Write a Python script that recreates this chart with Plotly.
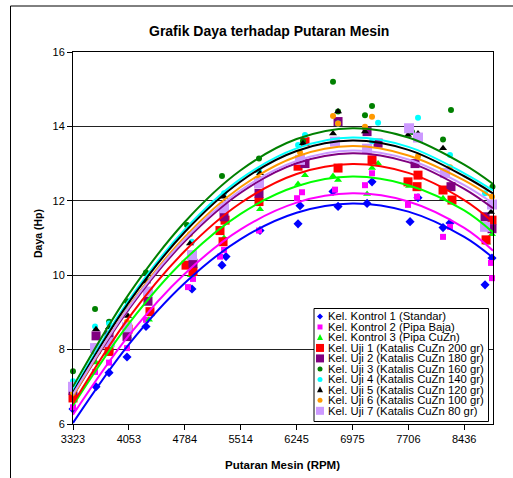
import plotly.graph_objects as go

# ---------------- data ----------------
X_TICKS = [3323, 4053, 4784, 5514, 6245, 6975, 7706, 8436]
Y_TICKS = [6, 8, 10, 12, 14, 16]

NAMES = [
    "Kel. Kontrol 1 (Standar)",
    "Kel. Kontrol 2 (Pipa Baja)",
    "Kel. Kontrol 3 (Pipa CuZn)",
    "Kel. Uji 1 (Katalis CuZn 200 gr)",
    "Kel. Uji 2 (Katalis CuZn 180 gr)",
    "Kel. Uji 3 (Katalis CuZn 160 gr)",
    "Kel. Uji 4 (Katalis CuZn 140 gr)",
    "Kel. Uji 5 (Katalis CuZn 120 gr)",
    "Kel. Uji 6 (Katalis CuZn 100 gr)",
    "Kel. Uji 7 (Katalis CuZn 80 gr)",
]

k1_rpm = [3323, 3624, 3794, 4029, 4277, 4878, 5270, 5323, 5767, 6264, 6290, 6721, 6787, 7166, 7231, 7728, 7832, 8159, 8250, 8708, 8799]
k1_hp = [6.40, 7.00, 7.38, 7.80, 8.62, 9.63, 10.27, 10.50, 11.20, 11.38, 11.87, 12.25, 11.85, 11.93, 12.51, 11.44, 12.08, 11.28, 11.40, 9.74, 10.46]

k2_rpm = [3323, 3611, 3794, 4029, 4277, 4826, 4891, 5244, 5297, 5754, 6251, 6316, 6747, 7139, 7231, 7701, 7819, 8159, 8250, 8786, 8799]
k2_hp = [6.45, 7.40, 7.65, 8.04, 8.80, 9.68, 9.90, 10.50, 10.68, 11.20, 12.07, 12.23, 12.30, 12.42, 12.74, 11.89, 12.11, 11.03, 11.30, 10.33, 9.92]

k3_rpm = [3323, 3624, 3807, 4042, 4316, 4865, 5297, 5767, 6264, 6355, 6721, 6787, 7166, 7231, 7310, 7715, 8159, 8734, 8799]
k3_hp = [6.80, 7.65, 8.00, 8.35, 8.80, 10.00, 11.00, 11.77, 12.45, 12.69, 12.67, 12.56, 12.18, 12.88, 13.00, 12.40, 12.07, 10.87, 11.10]

u1_rpm = [3323, 3624, 3794, 4042, 4329, 4800, 4891, 5244, 5284, 5310, 5754, 6264, 6355, 6787, 7231, 7701, 7819, 7832, 8159, 8276, 8721, 8799]
u1_hp = [6.70, 8.00, 7.95, 8.55, 9.02, 10.27, 10.10, 11.20, 10.90, 11.48, 11.98, 12.93, 13.59, 12.88, 13.10, 12.51, 12.38, 12.69, 12.29, 12.02, 10.95, 11.48]

u2_rpm = [3323, 3624, 3794, 4029, 4303, 4891, 5297, 5754, 6355, 6787, 7166, 7310, 7793, 8263, 8708, 8799]
u2_hp = [6.90, 8.37, 8.39, 8.35, 9.30, 10.32, 11.57, 12.20, 13.00, 14.13, 13.86, 13.55, 13.00, 12.38, 11.57, 11.25]

u3_rpm = [3323, 3611, 3794, 4029, 4277, 4813, 5270, 5754, 6329, 6721, 6787, 7139, 7231, 7754, 8159, 8263, 8805]
u3_hp = [7.42, 9.09, 8.75, 9.30, 10.07, 11.35, 12.67, 13.14, 13.60, 15.20, 14.40, 14.30, 14.55, 13.85, 13.65, 14.44, 12.38]

u4_rpm = [3323, 3611, 3794, 4029, 4290, 4878, 5297, 5754, 6264, 6355, 6787, 7231, 7310, 7832, 8250, 8708]
u4_hp = [7.15, 8.62, 8.70, 9.10, 9.90, 10.90, 12.20, 12.80, 13.50, 13.77, 14.08, 13.60, 14.10, 14.23, 13.23, 12.20]

u5_rpm = [3323, 3624, 3794, 4042, 4290, 4852, 5297, 5767, 6329, 6721, 6787, 7139, 7701, 7832, 8159, 8786]
u5_hp = [6.90, 8.55, 8.60, 8.90, 9.83, 10.85, 12.11, 12.74, 13.55, 13.81, 14.40, 13.86, 13.77, 13.81, 13.41, 11.70]

u6_rpm = [3323, 3611, 3807, 4029, 4277, 4852, 5297, 5754, 6290, 6721, 6787, 7139, 7231, 7832, 8250, 8799]
u6_hp = [6.85, 8.10, 8.45, 8.75, 9.50, 11.10, 11.90, 12.60, 13.30, 14.28, 14.08, 13.99, 14.26, 13.20, 12.90, 12.11]

u7_rpm = [3323, 3611, 3807, 4029, 4303, 4878, 5297, 5754, 6290, 6747, 7166, 7715, 7832, 8185, 8708, 8799]
u7_hp = [7.00, 8.04, 8.20, 8.60, 9.56, 10.54, 11.80, 12.47, 13.10, 13.59, 13.40, 13.95, 13.70, 12.75, 11.30, 11.90]

# trendline values
TREND_RPM = [3323, 4053, 4784, 5514, 6245, 6975, 7706, 8436, 8812]
k1_trend = [6.03, 8.14, 9.79, 10.97, 11.68, 11.93, 11.71, 11.03, 10.47]
k2_trend = [6.25, 8.38, 10.04, 11.23, 11.95, 12.20, 11.98, 11.27, 10.66]
k3_trend = [6.50, 8.70, 10.42, 11.65, 12.39, 12.65, 12.42, 11.74, 11.15]
u1_trend = [6.55, 8.86, 10.65, 11.94, 12.72, 12.99, 12.75, 12.02, 11.43]
u2_trend = [6.75, 9.09, 10.91, 12.22, 13.01, 13.28, 13.04, 12.32, 11.80]
u3_trend = [7.00, 9.49, 11.43, 12.82, 13.66, 13.95, 13.70, 12.97, 12.45]
u4_trend = [6.90, 9.33, 11.23, 12.59, 13.41, 13.70, 13.45, 12.74, 12.28]
u5_trend = [6.85, 9.27, 11.16, 12.52, 13.34, 13.62, 13.37, 12.66, 12.20]
u6_trend = [6.75, 9.16, 11.03, 12.37, 13.19, 13.47, 13.22, 12.55, 12.08]
u7_trend = [6.80, 9.14, 10.97, 12.28, 13.07, 13.35, 13.11, 12.42, 11.93]

# ---------------- styles ----------------
FONT = "Liberation Sans, Arial, sans-serif"
COLORS = ["#0000FF", "#FF00FF", "#00FF00", "#FF0000", "#800080",
          "#008000", "#00FFFF", "#000000", "#FF9900", "#CC99FF"]
SYMBOLS = ["diamond", "square", "triangle-up", "square", "square",
           "circle", "circle", "triangle-up", "circle", "square"]
SIZES = [7, 6, 7, 9, 9, 6, 6, 7, 6, 10]

RPMS = [k1_rpm, k2_rpm, k3_rpm, u1_rpm, u2_rpm, u3_rpm, u4_rpm, u5_rpm, u6_rpm, u7_rpm]
HPS = [k1_hp, k2_hp, k3_hp, u1_hp, u2_hp, u3_hp, u4_hp, u5_hp, u6_hp, u7_hp]
TRENDS = [k1_trend, k2_trend, k3_trend, u1_trend, u2_trend, u3_trend,
          u4_trend, u5_trend, u6_trend, u7_trend]

W, H = 513, 478
PL, PR, PT, PB = 73, 493, 52, 424  # plot area in pixels


def fx(px):
    return (px - PL) / (PR - PL)


def fy(py):
    return (PB - py) / (PB - PT)


fig = go.Figure()

for name, xs, ys, c, s, sz in zip(NAMES, RPMS, HPS, COLORS, SYMBOLS, SIZES):
    fig.add_trace(go.Scatter(x=xs, y=ys, mode="markers", name=name,
                             marker=dict(color=c, symbol=s, size=sz, line=dict(width=0)),
                             showlegend=False, cliponaxis=False))

for name, ys, c in zip(NAMES, TRENDS, COLORS):
    fig.add_trace(go.Scatter(x=TREND_RPM, y=ys, mode="lines", name=name + " trend",
                             line=dict(color=c, width=2, shape="spline"),
                             showlegend=False))

shapes = []
annotations = []

# outer chart frame (top and left edges visible)
shapes.append(dict(type="line", xref="paper", yref="paper",
                   x0=fx(10.5), x1=fx(520), y0=fy(6), y1=fy(6),
                   line=dict(color="black", width=1)))
shapes.append(dict(type="line", xref="paper", yref="paper",
                   x0=fx(10.5), x1=fx(10.5), y0=fy(6), y1=fy(490),
                   line=dict(color="black", width=1)))

# manual legend
LX0, LX1, LY0, LY1 = 314, 488.5, 308.5, 421.5
shapes.append(dict(type="rect", xref="paper", yref="paper",
                   x0=fx(LX0), x1=fx(LX1), y0=fy(LY1), y1=fy(LY0),
                   fillcolor="white", line=dict(color="black", width=1), layer="above"))

ROW0, STEP = 315.7, 10.48
LEG_SIZE = [5, 5, 6, 8, 8, 5, 5, 6, 5, 8]
for i, (name, c, s) in enumerate(zip(NAMES, COLORS, SYMBOLS)):
    cy = ROW0 + i * STEP + 0.8
    cx = 320
    r = LEG_SIZE[i] / 2
    base = dict(xref="paper", yref="paper", xsizemode="pixel", ysizemode="pixel",
                xanchor=fx(cx), yanchor=fy(cy), fillcolor=c,
                line=dict(width=0), layer="above")
    if s == "square":
        shapes.append(dict(type="rect", x0=-r, x1=r, y0=-r, y1=r, **base))
    elif s == "circle":
        shapes.append(dict(type="circle", x0=-r, x1=r, y0=-r, y1=r, **base))
    elif s == "diamond":
        shapes.append(dict(type="path", path=f"M 0,{r+0.5} L {r+0.5},0 L 0,{-r-0.5} L {-r-0.5},0 Z", **base))
    else:
        shapes.append(dict(type="path", path=f"M {-r},{-r+0.5} L {r},{-r+0.5} L 0,{r+0.5} Z", **base))
    annotations.append(dict(xref="paper", yref="paper", x=fx(326), y=fy(ROW0 + i * STEP + 0.6),
                            xanchor="left", yanchor="middle", showarrow=False, text=name,
                            font=dict(family=FONT, size=11.3, color="black")))

# titles
annotations.append(dict(xref="paper", yref="paper", x=fx(268.5), y=fy(31.5),
                        xanchor="center", yanchor="middle", showarrow=False,
                        text="<b>Grafik Daya terhadap Putaran Mesin</b>",
                        font=dict(family=FONT, size=14, color="black")))
annotations.append(dict(xref="paper", yref="paper", x=fx(282), y=fy(464.5),
                        xanchor="center", yanchor="middle", showarrow=False,
                        text="<b>Putaran Mesin (RPM)</b>",
                        font=dict(family=FONT, size=11.5, color="black")))
annotations.append(dict(xref="paper", yref="paper", x=fx(38), y=fy(234),
                        xanchor="center", yanchor="middle", showarrow=False, textangle=-90,
                        text="<b>Daya (Hp)</b>",
                        font=dict(family=FONT, size=10.5, color="black")))

fig.update_layout(
    width=W, height=H,
    margin=dict(l=PL, r=W - PR, t=PT, b=H - PB, pad=0),
    paper_bgcolor="white", plot_bgcolor="white",
    showlegend=False,
    shapes=shapes, annotations=annotations,
    xaxis=dict(range=[3323, 8812], tickvals=X_TICKS, ticktext=[str(v) for v in X_TICKS],
               ticks="outside", ticklen=5, tickcolor="black", showline=True,
               linecolor="black", linewidth=1, mirror=True, showgrid=False, zeroline=False,
               tickfont=dict(family=FONT, size=11, color="black")),
    yaxis=dict(range=[6, 16], tickvals=Y_TICKS, ticks="outside", ticklen=5,
               tickcolor="black", showline=True, linecolor="black", linewidth=1,
               mirror=True, showgrid=True, gridcolor="#222222", gridwidth=1,
               zeroline=False, tickfont=dict(family=FONT, size=11, color="black")),
)

fig.write_html("out.html")
